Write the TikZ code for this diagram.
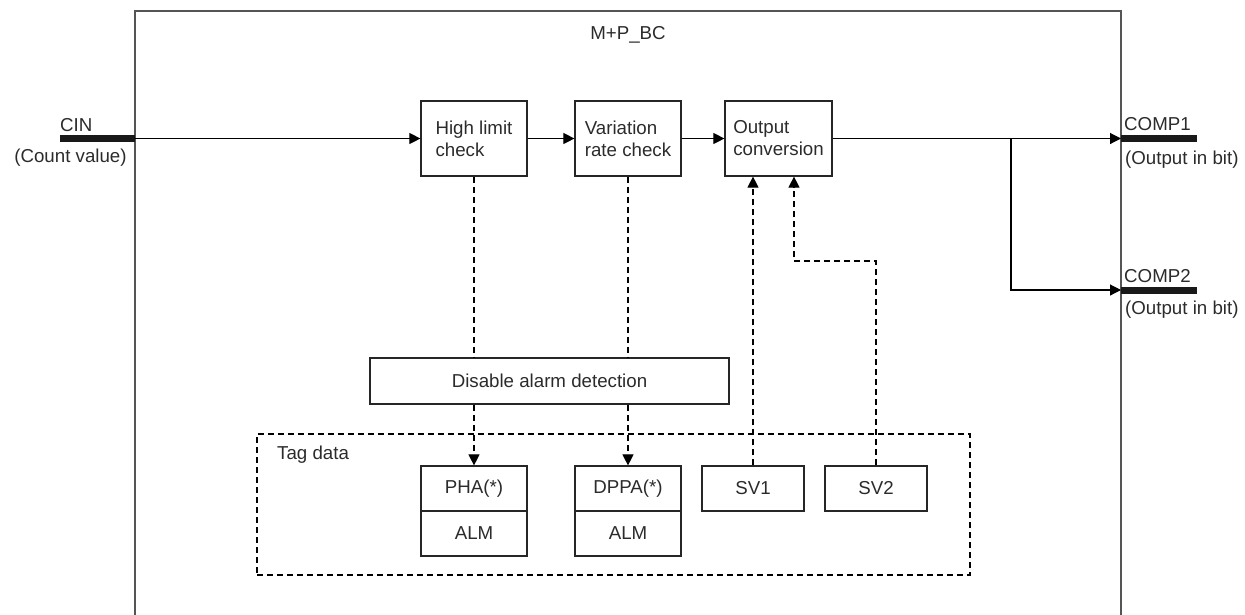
\documentclass[tikz,border=0pt]{standalone}
\usepackage{fontspec}
\setmainfont{Liberation Sans}
\usetikzlibrary{arrows.meta}
\definecolor{txt}{HTML}{2B2B2B}
\definecolor{frame}{HTML}{555555}
\begin{document}
\begin{tikzpicture}[x=1pt,y=-1pt,
  font=\fontsize{18.7}{22}\selectfont, text=txt,
  box/.style={draw=black!85, line width=1.2pt, inner sep=0pt, align=left},
  lbl/.style={inner sep=0pt},
  arr/.style={-{Triangle[length=11pt,width=11pt]}, line width=1.1pt, draw=black},
  dsh/.style={dash pattern=on 6pt off 4pt, line width=1.1pt, draw=black},
  bar/.style={line width=7pt, draw=black!90}]
\useasboundingbox (0,0) rectangle (1245,614);
% outer frame (open at the bottom)
\draw[frame, line width=1.6pt] (135,616) -- (135,11) -- (1121,11) -- (1121,616);
\node[lbl] (title) at (628,35) {M+P\_BC};
% input
\coordinate (cinL) at (60,138.5);
\coordinate (cinR) at (135,138.5);
\draw[bar] (cinL) -- (cinR);
\node[lbl, anchor=west] (cin) at (60,125) {CIN};
\node[lbl] (cinv) at (70.5,158) {(Count value)};
% processing boxes
\node[box, minimum width=106, minimum height=75] (hl) at (474,138.5) {High limit\\check};
\node[box, minimum width=106, minimum height=75] (vr) at (628,138.5) {Variation\\rate check};
\node[box, minimum width=107, minimum height=75] (oc) at (778.5,138.5) {Output\\conversion};
\node[box, minimum width=359, minimum height=46] (dis) at (549.5,381) {Disable alarm detection};
% tag data
\node[draw=black, dash pattern=on 6pt off 4pt, line width=1.1pt, minimum width=713, minimum height=141, inner sep=0pt] (tag) at (613.5,504.5) {};
\node[lbl, anchor=west] (tagt) at (277,455) {Tag data};
\node[box, minimum width=106, minimum height=45] (pha) at (474,488.5) {PHA(*)};
\node[box, minimum width=106, minimum height=45] (alm1) at (474,533.5) {ALM};
\node[box, minimum width=106, minimum height=45] (dppa) at (628,488.5) {DPPA(*)};
\node[box, minimum width=106, minimum height=45] (alm2) at (628,533.5) {ALM};
\node[box, minimum width=102, minimum height=45] (sv1) at (753,488.5) {SV1};
\node[box, minimum width=102, minimum height=45] (sv2) at (876,488.5) {SV2};
% outputs
\coordinate (c1L) at (1121,138.5);
\coordinate (c1R) at (1197,138.5);
\coordinate (c2L) at (1121,290);
\coordinate (c2R) at (1197,290);
\draw[bar] (c1L) -- (c1R);
\draw[bar] (c2L) -- (c2R);
\node[lbl, anchor=west] (comp1) at (1124,124) {COMP1};
\node[lbl, anchor=west] (comp1v) at (1125,160) {(Output in bit)};
\node[lbl, anchor=west] (comp2) at (1124,276) {COMP2};
\node[lbl, anchor=west] (comp2v) at (1125,310) {(Output in bit)};
% main flow
\draw[arr] (cinR) -- (hl.west);
\draw[arr] (hl.east) -- (vr.west);
\draw[arr] (vr.east) -- (oc.west);
\draw[arr] (oc.east) -- (c1L);
\coordinate (br) at (1011,138.5);
\draw[arr] (br) |- (c2L);
% dashed connections
\draw[dsh] (hl.south) -- (hl.south |- dis.north);
\draw[dsh] (vr.south) -- (vr.south |- dis.north);
\draw[dsh, arr, dash pattern=on 6pt off 4pt] (hl.south |- dis.south) -- (pha.north);
\draw[dsh, arr, dash pattern=on 6pt off 4pt] (vr.south |- dis.south) -- (dppa.north);
\draw[dsh, arr, dash pattern=on 6pt off 4pt] (sv1.north) -- (sv1.north |- oc.south);
\coordinate (sv2turn) at (794,261);
\draw[dsh, arr, dash pattern=on 6pt off 4pt] (sv2.north) |- (sv2turn) -- (sv2turn |- oc.south);
\end{tikzpicture}
\end{document}
